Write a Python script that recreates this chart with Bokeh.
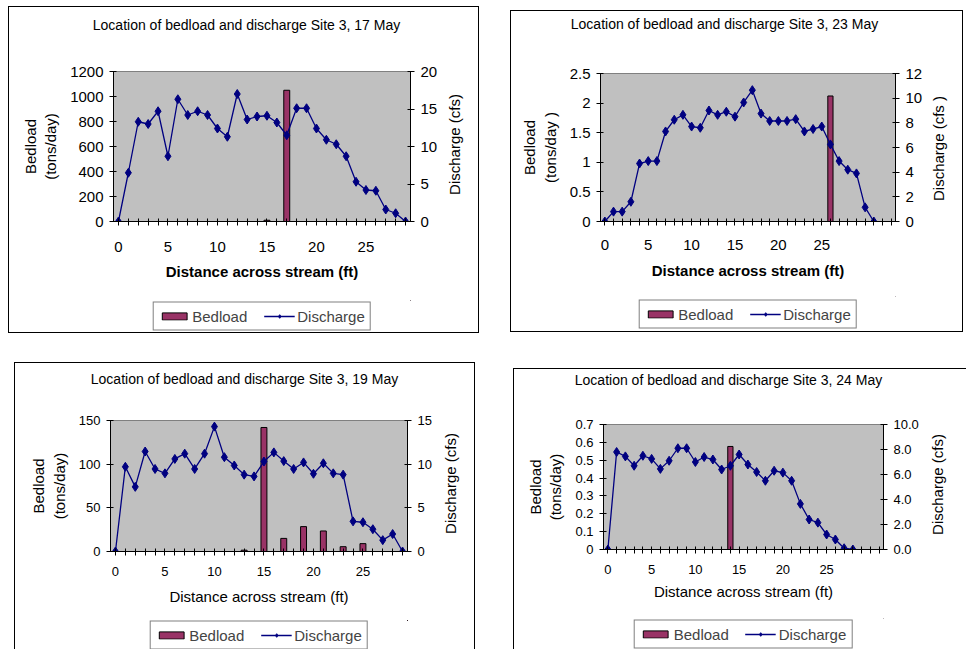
import math
from bokeh.plotting import figure
from bokeh.models import (Range1d, LinearAxis, FixedTicker, Legend, LegendItem, Label)
from bokeh.layouts import row, column
from bokeh.embed import file_html
from bokeh.resources import INLINE

# ---------------- data ----------------
# Site 3, 17 May
discharge_17 = [0, 6.5, 13.3, 13.0, 14.7, 8.7, 16.3, 14.2, 14.7, 14.2, 12.4, 11.3, 17.0, 13.6, 14.0,
                14.1, 13.2, 11.5, 15.1, 15.1, 12.4, 10.9, 10.3, 8.7, 5.3, 4.2, 4.1, 1.6, 1.1, 0]
bedload_17 = [0, 0, 0, 0, 0, 0, 0, 0, 0, 0, 0, 0, 0, 0, 0,
              10, 0, 1050, 0, 0, 0, 0, 0, 0, 0, 0, 0, 0, 0, 0]

# Site 3, 23 May
discharge_23 = [0, 0.8, 0.8, 1.6, 4.7, 4.9, 4.9, 7.3, 8.25, 8.65, 7.7, 7.6, 9.0, 8.65, 8.9, 8.5,
                9.65, 10.65, 8.75, 8.15, 8.15, 8.15, 8.3, 7.3, 7.5, 7.7, 6.25, 4.9, 4.2, 3.9, 1.15, 0]
bedload_23 = [0, 0, 0, 0, 0, 0, 0, 0, 0, 0, 0, 0, 0, 0, 0, 0,
              0, 0, 0, 0, 0, 0, 0, 0, 0, 0, 2.12, 0, 0, 0, 0, 0]

# Site 3, 19 May
discharge_19 = [0, 9.7, 7.4, 11.45, 9.45, 8.95, 10.6, 11.2, 9.45, 11.2, 14.3, 10.8, 9.85, 8.8, 8.6,
                10.3, 11.35, 10.35, 9.45, 10.2, 8.9, 10.1, 8.95, 8.8, 3.45, 3.35, 2.55, 1.3, 2.0, 0]
bedload_19 = [0, 0, 0, 0, 0, 0, 0, 0, 0, 0, 0, 0, 0, 1.5, 0,
              142, 0, 15, 0, 28.5, 0, 23.5, 0, 5.5, 0, 9, 0, 0, 0, 0]

# Site 3, 24 May
discharge_24 = [0, 7.8, 7.45, 6.7, 7.5, 7.25, 6.45, 7.1, 8.1, 8.1, 7.0, 7.4, 7.2, 6.4, 6.7,
                7.6, 6.8, 6.2, 5.5, 6.3, 6.15, 5.5, 3.65, 2.4, 2.15, 1.2, 0.8, 0.1, 0]
bedload_24 = [0, 0, 0, 0, 0, 0, 0, 0, 0, 0, 0, 0, 0, 0, 0.577,
              0, 0, 0, 0, 0, 0, 0, 0, 0, 0, 0, 0, 0, 0]

ticks_17_left = [0, 200, 400, 600, 800, 1000, 1200]
ticks_17_right = [0, 5, 10, 15, 20]
ticks_23_left = [0, 0.5, 1, 1.5, 2, 2.5]
ticks_23_right = [0, 2, 4, 6, 8, 10, 12]
ticks_19_left = [0, 50, 100, 150]
ticks_19_right = [0, 5, 10, 15]
ticks_24_left = [0, 0.1, 0.2, 0.3, 0.4, 0.5, 0.6, 0.7]
ticks_24_right = [0, 2, 4, 6, 8, 10]

FONT = "Liberation Sans"
NAVY = "#000080"
BAR = "#993366"
PLOT_BG = "#C0C0C0"
EDGE = "1px solid #000000"


def lab(v, fmt="%g"):
    key = int(v) if float(v).is_integer() else v
    return key, fmt % v


def draw_series(p, bedload, discharge):
    cats = list(range(len(discharge)))
    bx = [i for i, b in enumerate(bedload) if b > 0]
    bt_ = [b for b in bedload if b > 0]
    bars = p.vbar(x=bx, top=bt_, width=0.6, fill_color=BAR, line_color="black", line_width=1)
    ln = p.line(cats, discharge, line_color=NAVY, line_width=1.3, y_range_name="q")
    pts = p.scatter(cats, discharge, marker="diamond", size=9, fill_color=NAVY,
                    line_color=NAVY, y_range_name="q")
    return bars, ln, pts


def panel(title, bedload, discharge, n_cat, label_max,
          left_end, left_ticks, right_end, right_ticks, right_fmt,
          box, sides, frame, leg, tcen, rcen, bold_x, tick_fs, lab_fs,
          left_label, right_label, x_stand, xl_stand, margin):
    bx0, by0, bx1, by1 = box
    sl, st, sr, sb = sides
    ix0, iy0 = bx0 + sl, by0 + st
    ix1, iy1 = bx1 - sr, by1 - sb
    W = ix1 - ix0
    fx0, fy0, fx1, fy1 = frame
    lx0, ly0, lx1, ly1 = leg
    H = (ly0 - 2) - iy0
    left_b = fx0 - ix0
    right_b = ix1 - fx1

    p = figure(width=W, height=H, output_backend="svg", toolbar_location=None,
               x_range=Range1d(-0.5, n_cat - 0.5), y_range=Range1d(0, left_end),
               min_border_left=left_b, min_border_right=right_b,
               min_border_top=fy0 - iy0, min_border_bottom=(iy0 + H) - fy1,
               background_fill_color=PLOT_BG, border_fill_color="white",
               outline_line_color="#808080")
    p.extra_y_ranges = {"q": Range1d(0, right_end)}
    p.xgrid.visible = False
    p.ygrid.visible = False
    draw_series(p, bedload, discharge)

    xa = p.xaxis[0]
    xa.ticker = FixedTicker(ticks=list(range(n_cat)))
    xa.major_label_overrides = {i: (str(i) if (i % 5 == 0 and i <= label_max) else "")
                                for i in range(n_cat)}
    xa.axis_label = "Distance across stream (ft)"

    ya = p.yaxis[0]
    ya.ticker = FixedTicker(ticks=left_ticks)
    ya.major_label_overrides = dict(lab(v) for v in left_ticks)
    ya.axis_label = left_label

    ra = LinearAxis(y_range_name="q", ticker=FixedTicker(ticks=right_ticks))
    ra.major_label_overrides = dict(lab(v, right_fmt) for v in right_ticks)
    p.add_layout(ra, "right")

    for ax in (xa, ya, ra):
        ax.axis_line_color = "black"
        ax.major_tick_line_color = "black"
        ax.minor_tick_line_color = None
        ax.major_tick_in = 3
        ax.major_tick_out = 4
        ax.major_label_text_font = FONT
        ax.major_label_text_font_size = f"{tick_fs}px"
        ax.major_label_text_color = "black"
        ax.axis_label_text_font = FONT
        ax.axis_label_text_font_size = f"{lab_fs}px"
        ax.axis_label_text_color = "black"
        ax.axis_label_text_font_style = "normal"
        ax.major_label_standoff = 6
        ax.axis_label_standoff = 8
    xa.axis_label_text_font_style = "bold" if bold_x else "normal"
    xa.major_label_standoff = x_stand
    xa.axis_label_standoff = xl_stand

    # chart title
    p.add_layout(Label(x=tcen[0] - ix0, y=tcen[1] - iy0, x_units="canvas", y_units="canvas",
                       text=title, text_align="center", text_baseline="middle",
                       text_font=FONT, text_font_size="14px", text_color="black"), "above")
    # right-axis title, reading bottom to top like the left one
    p.add_layout(Label(x=rcen[0] - ix0, y=rcen[1] - iy0, x_units="canvas", y_units="canvas",
                       text=right_label, angle=math.pi / 2, text_align="center",
                       text_baseline="middle", text_font=FONT, text_font_size=f"{lab_fs}px",
                       text_color="black"), "right")

    # legend strip: its own small figure below the chart (same side borders, so the
    # column keeps both frames aligned), inside the same outer border
    LH = iy1 - (iy0 + H)
    lp = figure(width=W, height=LH, output_backend="svg", toolbar_location=None,
                x_range=Range1d(-1000, -999), y_range=Range1d(-1000, -999),
                x_axis_location=None, y_axis_location=None,
                min_border_left=left_b, min_border_right=right_b,
                min_border_top=0, min_border_bottom=0,
                background_fill_color="white", border_fill_color="white",
                outline_line_color=None)
    lp.extra_y_ranges = {"q": Range1d(-1000, -999)}
    lp.xgrid.visible = False
    lp.ygrid.visible = False
    bars, ln, pts = draw_series(lp, bedload, discharge)
    legend = Legend(items=[LegendItem(label="Bedload", renderers=[bars]),
                           LegendItem(label="Discharge", renderers=[ln, pts])],
                    orientation="horizontal", location="center",
                    border_line_color="black", border_line_width=1.2,
                    background_fill_color="white", background_fill_alpha=1,
                    label_text_font=FONT, label_text_font_size=f"{lab_fs}px",
                    glyph_width=31, glyph_height=9, label_standoff=3, spacing=16,
                    label_height=17, padding=5, margin=0)
    lp.add_layout(legend)

    css = {}
    for flag, side in zip(sides, ("left", "top", "right", "bottom")):
        if flag:
            css[f"border-{side}"] = EDGE
    return column(p, lp, styles=css, margin=margin, spacing=0)


p1 = panel("Location of bedload and discharge Site 3, 17 May", bedload_17, discharge_17, 30, 25,
           1200, ticks_17_left, 20, ticks_17_right, "%g",
           (8, 6, 479, 333), (1, 1, 1, 1), (113, 71, 410, 221), (153, 302, 370, 329),
           (246, 24), (454, 144),
           True, 15, 15, "Bedload\n(tons/day)", "Discharge (cfs)", 16, 8, (6, 0, 0, 8))
p2 = panel("Location of bedload and discharge Site 3, 23 May", bedload_23, discharge_23, 34, 25,
           2.5, ticks_23_left, 12, ticks_23_right, "%g",
           (510, 10, 963, 332), (1, 1, 1, 1), (600, 73, 895, 221), (643, 298, 851, 327),
           (724, 23), (938, 148),
           True, 15, 15, "Bedload\n(tons/day )", "Discharge (cfs )", 14, 9, (10, 0, 0, 31))
p3 = panel("Location of bedload and discharge Site 3, 19 May", bedload_19, discharge_19, 30, 25,
           150, ticks_19_left, 15, ticks_19_right, "%g",
           (14, 362, 475, 649), (1, 1, 1, 0), (110, 420, 407, 551), (152, 622, 363, 647),
           (244, 378), (450, 483),
           False, 13, 15, "Bedload\n(tons/day)", "Discharge (cfs)", 11, 9, (29, 0, 0, 14))
p4 = panel("Location of bedload and discharge Site 3, 24 May", bedload_24, discharge_24, 32, 25,
           0.7, ticks_24_left, 10, ticks_24_right, "%.1f",
           (513, 368, 966, 649), (1, 1, 0, 0), (603, 424, 883, 549), (637, 620, 847, 645),
           (728, 379), (937, 484),
           False, 13, 15, "Bedload\n(tons/day)", "Discharge (cfs)", 11, 6, (35, 0, 0, 38))

layout = column(row(p1, p2), row(p3, p4))
open("out.html", "w").write(file_html(layout, INLINE))
